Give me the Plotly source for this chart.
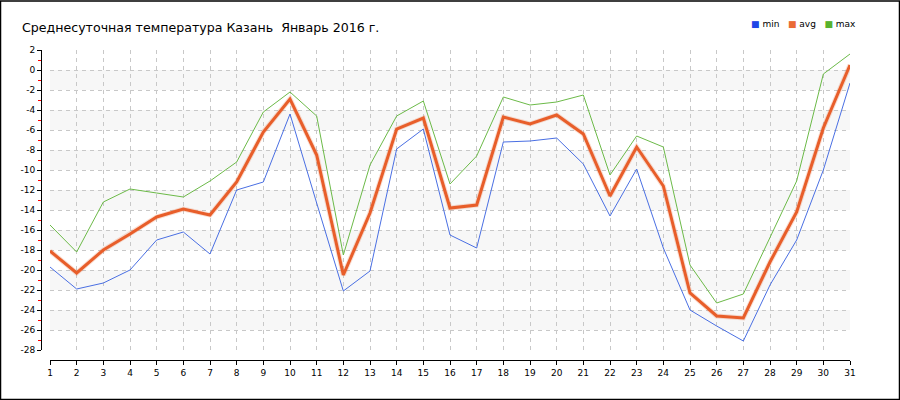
import plotly.graph_objects as go

days = list(range(1, 32))
t_min = [-19.7, -21.9, -21.3, -20.0, -17.0, -16.2, -18.4, -12.0, -11.2, -4.4,
         -13.3, -22.1, -20.1, -7.9, -5.9, -16.5, -17.8, -7.2, -7.1, -6.8,
         -9.4, -14.6, -9.9, -17.8, -24.0, -25.6, -27.1, -21.5, -17.0, -10.0, -1.3]
t_avg = [-18.1, -20.3, -18.0, -16.4, -14.7, -13.9, -14.5, -11.2, -6.2, -2.9,
         -8.5, -20.5, -14.3, -5.9, -4.8, -13.8, -13.5, -4.7, -5.4, -4.5,
         -6.4, -12.6, -7.7, -11.6, -22.3, -24.6, -24.8, -19.2, -14.2, -5.8, 0.5]
t_max = [-15.5, -18.2, -13.2, -11.9, -12.3, -12.7, -11.1, -9.2, -4.2, -2.2,
         -4.6, -18.5, -9.5, -4.6, -3.1, -11.4, -8.6, -2.7, -3.5, -3.2,
         -2.5, -10.5, -6.6, -7.7, -19.5, -23.3, -22.4, -16.8, -11.1, -0.4, 1.6]
y_ticks = list(range(2, -29, -2))
band_ranges = [(0, -2), (-4, -6), (-8, -10), (-12, -14), (-16, -18), (-20, -22), (-24, -26)]
series_names = ["min", "avg", "max"]

C_MIN = "#4a6fe3"
C_AVG = "#e85e2a"
C_MAX = "#6cba48"
LEG_COLORS = ["#1f45e6", "#ea6a35", "#58b22e"]

W, H = 900, 400
ML, MR, MT, MB = 41, 50, 50, 40
PW = W - ML - MR
PH = H - MT - MB
x0_dom = (50 - ML) / PW
y0_dom = 10 / PH


def px_x(p):
    return (p - ML) / PW


def px_y(p):
    return (H - MB - p) / PH


fig = go.Figure()

fig.add_trace(go.Scatter(x=days, y=t_max, mode="lines", line=dict(color=C_MAX, width=1),
                         showlegend=False, hoverinfo="skip"))
fig.add_trace(go.Scatter(x=days, y=t_min, mode="lines", line=dict(color=C_MIN, width=1),
                         showlegend=False, hoverinfo="skip"))
fig.add_trace(go.Scatter(x=days, y=t_avg, mode="lines", line=dict(color="rgba(232,94,42,0.2)", width=5),
                         showlegend=False, hoverinfo="skip"))
fig.add_trace(go.Scatter(x=days, y=t_avg, mode="lines", line=dict(color=C_AVG, width=3),
                         showlegend=False))

shapes = []
for a, b in band_ranges:
    shapes.append(dict(type="rect", xref="x", yref="y", x0=days[0], x1=days[-1], y0=a, y1=b,
                       fillcolor="#f7f7f7", line=dict(width=0), layer="below"))
# outer border
shapes.append(dict(type="rect", xref="paper", yref="paper",
                   x0=px_x(0.5), x1=px_x(W - 0.5), y0=px_y(H - 0.5), y1=px_y(1),
                   line=dict(color="black", width=1.5), layer="above"))

legend_text = "   ".join(
    f'<span style="color:{c}">■</span> {n}' for n, c in zip(series_names, LEG_COLORS)
)

fig.update_layout(
    shapes=shapes,
    width=W, height=H,
    margin=dict(l=ML, r=MR, t=MT, b=MB, pad=0, autoexpand=False),
    paper_bgcolor="white", plot_bgcolor="white",
    showlegend=False,
    font=dict(family="DejaVu Sans", size=9, color="black"),
    title=dict(text="Среднесуточная температура Казань  Январь 2016 г.",
               x=22 / W, xref="container", xanchor="left",
               y=1 - 28 / H, yref="container", yanchor="middle",
               pad=dict(l=0, r=0, t=0, b=0),
               font=dict(family="DejaVu Sans", size=12.6, color="black")),
    annotations=[dict(text=legend_text, xref="paper", yref="paper",
                      x=px_x(749), y=px_y(23.5), xanchor="left", yanchor="middle",
                      showarrow=False, font=dict(family="DejaVu Sans", size=9, color="black"))],
    xaxis=dict(range=[1, 31], domain=[x0_dom, 1], anchor="free", position=0,
               tickmode="array", tickvals=days, ticktext=[str(d) for d in days],
               showgrid=True, gridcolor="#c8c8c8", griddash="4px,4px", gridwidth=1,
               showline=True, linecolor="black", linewidth=1,
               ticks="outside", ticklen=4, tickcolor="black",
               zeroline=False, tickfont=dict(size=9)),
    yaxis=dict(range=[-28, 2], domain=[y0_dom, 1], anchor="free", position=0,
               tickmode="array", tickvals=y_ticks, ticktext=[str(v) for v in y_ticks],
               showgrid=True, gridcolor="#c8c8c8", griddash="4px,4px", gridwidth=1,
               showline=True, linecolor="black", linewidth=1,
               ticks="outside", ticklen=4, tickcolor="black",
               minor=dict(dtick=1, tick0=1, ticks="outside", ticklen=3, tickcolor="red", showgrid=False),
               zeroline=False, tickfont=dict(size=9)),
)

fig.write_html("out.html", config={"displayModeBar": False},
               post_script="document.body.style.margin='0px';document.body.style.overflow='hidden';")
